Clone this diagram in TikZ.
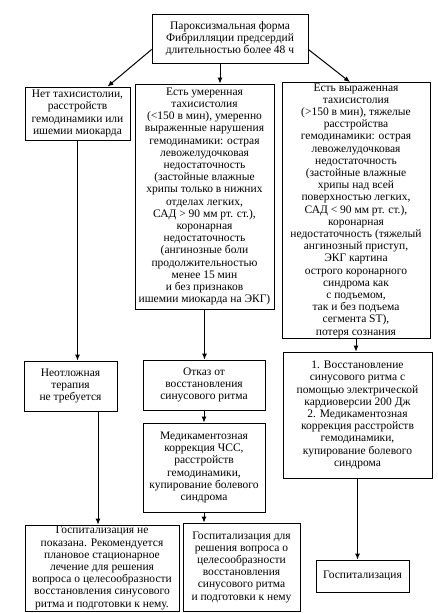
\documentclass[tikz,border=0pt]{standalone}
\usepackage{fontspec}
\setmainfont{Liberation Serif}
\usetikzlibrary{arrows.meta,calc}

\begin{document}
\begin{tikzpicture}[x=1pt,y=-1pt,
    box/.style={draw,line width=.8pt,align=center,inner sep=1pt,
      font=\fontsize{11.5}{12.2}\selectfont},
    arr/.style={-{Latex[length=6pt,width=5pt]},line width=1pt}]
  \useasboundingbox (0,0) rectangle (438,613);
  \node[box,minimum width=156,minimum height=49] (top) at (230,38.5)
    {Пароксизмальная форма\\Фибрилляции предсердий\\длительностью более 48 ч};
  \node[box,minimum width=105,minimum height=53] (l1) at (77.5,113.5)
    {Нет тахисистолии,\\расстройств\\гемодинамики или\\ишемии миокарда};
  \node[box,minimum width=139,minimum height=225] (m1) at (204.5,196.5)
    {Есть умеренная\\тахисистолия\\(<150 в мин), умеренно\\выраженные нарушения\\
     гемодинамики: острая\\левожелудочковая\\недостаточность\\(застойные влажные\\
     хрипы только в нижних\\отделах легких,\\САД > 90 мм рт. ст.),\\коронарная\\
     недостаточность\\(ангинозные боли\\продолжительностью\\менее 15 мин\\
     и без признаков\\ишемии миокарда на ЭКГ)};
  \node[box,minimum width=148,minimum height=255] (r1) at (356,210.5)
    {Есть выраженная\\тахисистолия\\(>150 в мин), тяжелые\\расстройства\\
     гемодинамики: острая\\левожелудочковая\\недостаточность\\(застойные влажные\\
     хрипы над всей\\поверхностью легких,\\САД < 90 мм рт. ст.),\\коронарная\\
     недостаточность (тяжелый\\ангинозный приступ,\\ЭКГ картина\\
     острого коронарного\\синдрома как\\с подъемом,\\так и без подъема\\
     сегмента ST),\\потеря сознания};
  \node[box,minimum width=93,minimum height=50] (l2) at (70.5,386)
    {Неотложная\\терапия\\не требуется};
  \node[box,minimum width=122,minimum height=50] (m2) at (204,385)
    {Отказ от\\восстановления\\синусового ритма};
  \node[box,minimum width=149,minimum height=126] (r2) at (357.5,415)
    {1. Восстановление\\синусового ритма с\\помощью электрической\\
     кардиоверсии 200 Дж\\2. Медикаментозная\\коррекция расстройств\\
     гемодинамики,\\купирование болевого\\синдрома};
  \node[box,minimum width=122,minimum height=89] (m3) at (204,467.5)
    {Медикаментозная\\коррекция ЧСС,\\расстройств\\гемодинамики,\\
     купирование болевого\\синдрома};
  \node[box,minimum width=154,minimum height=86] (l3) at (102,568)
    {Госпитализация не\\показана. Рекомендуется\\плановое стационарное\\
     лечение для решения\\вопроса о целесообразности\\восстановления синусового\\
     ритма и подготовки к нему.};
  \node[box,minimum width=117,minimum height=88] (m4) at (241.5,567)
    {Госпитализация для\\решения вопроса о\\целесообразности\\восстановления\\
     синусового ритма\\и подготовки к нему};
  \node[box,minimum width=93,minimum height=32] (r3) at (362.5,576)
    {Госпитализация};
  \draw[arr] ([yshift=-11pt]top.west) -- ([xshift=30pt]l1.north);
  \draw[arr] ([xshift=-10pt]top.south) -- ([xshift=-10pt]top.south |- m1.north);
  \draw[arr] ([yshift=-11pt]top.east) -- ([xshift=-6pt]r1.north);
  \draw[arr] (l1.south) -- (l1.south |- l2.north);
  \draw[arr] ([xshift=27.5pt]l2.south) -- ([xshift=27.5pt]l2.south |- l3.north);
  \draw[arr] (m1.south) -- (m1.south |- m2.north);
  \draw[arr] (m2.south) -- (m3.north);
  \draw[arr] (m3.south) -- (m3.south |- m4.north);
  \draw[arr] (r1.south) -- (r1.south |- r2.north);
  \draw[arr] (r2.south) -- (r2.south |- r3.north);
\end{tikzpicture}
\end{document}
